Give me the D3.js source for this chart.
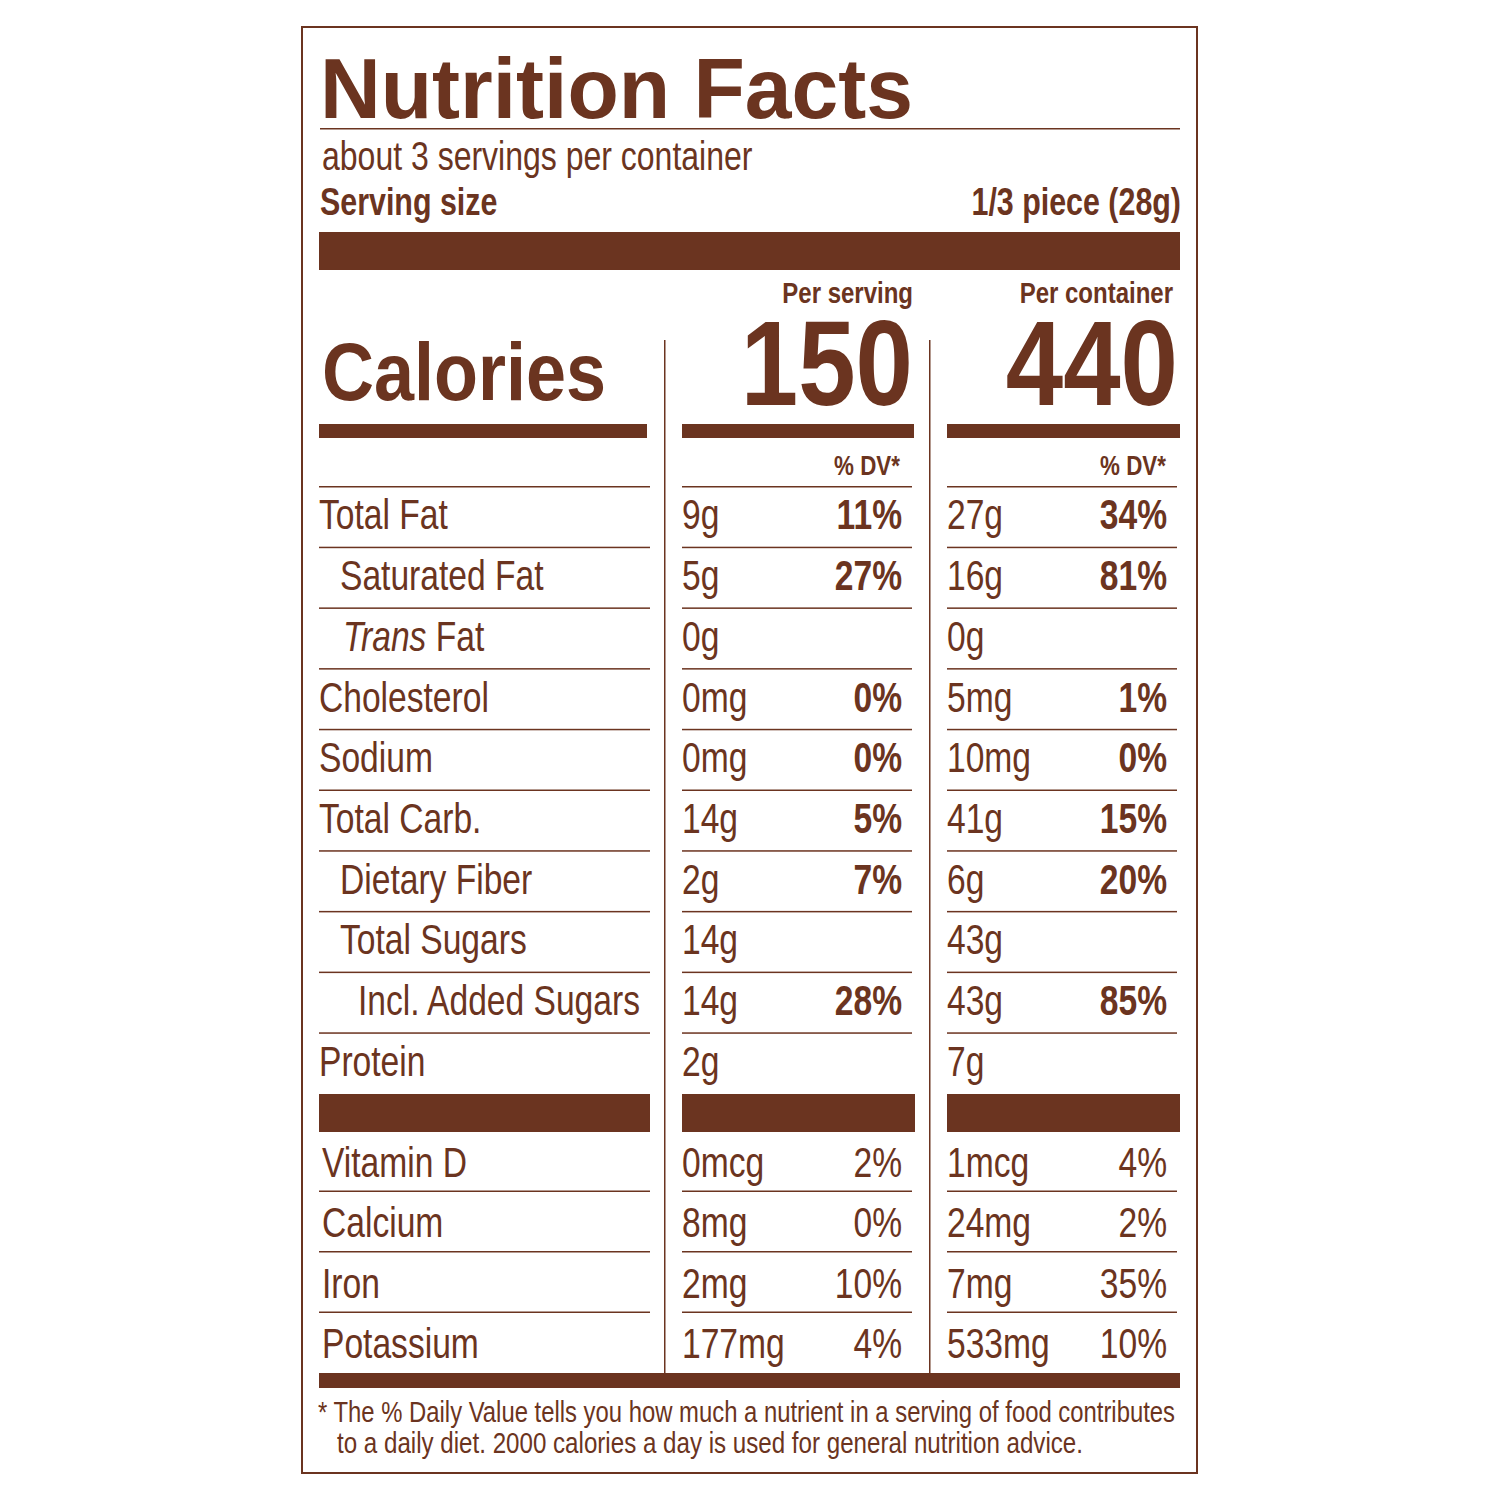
<!DOCTYPE html>
<html><head><meta charset="utf-8">
<script src="https://cdn.jsdelivr.net/npm/d3@7/dist/d3.min.js"></script>
<style>body{margin:0;background:#fff}</style>
</head><body>
<script>
const nutrients = ["Total Fat","Saturated Fat","Trans Fat","Cholesterol","Sodium","Total Carb.","Dietary Fiber","Total Sugars","Incl. Added Sugars","Protein"];
const indent = [0,21,24,0,0,0,21,21,39,0];
const servAmt = ["9g","5g","0g","0mg","0mg","14g","2g","14g","14g","2g"];
const servDV = ["11%","27%","","0%","0%","5%","7%","","28%",""];
const contAmt = ["27g","16g","0g","5mg","10mg","41g","6g","43g","43g","7g"];
const contDV = ["34%","81%","","1%","0%","15%","20%","","85%",""];
const vitamins = ["Vitamin D","Calcium","Iron","Potassium"];
const vitServAmt = ["0mcg","8mg","2mg","177mg"];
const vitServDV = ["2%","0%","10%","4%"];
const vitContAmt = ["1mcg","24mg","7mg","533mg"];
const vitContDV = ["4%","2%","35%","10%"];
const calories = [150, 440];

const C = "#6b3420";
const F = "'Liberation Sans',Arial,sans-serif";
const svg = d3.select("body").append("svg").attr("width",1500).attr("height",1500)
  .style("font-family",F).attr("fill",C);
const rect=(x,y,w,h)=>svg.append("rect").attr("x",x).attr("y",y).attr("width",w).attr("height",h).attr("fill",C);
const txt=(s,x,y,size,w,anchor,sx)=>svg.append("text").attr("transform",`translate(${x},${y}) scale(${sx||0.8},1)`)
  .attr("font-size",size).attr("font-weight",w||"normal").attr("text-anchor",anchor||"start").text(s);
const fit=(s,x,y,size,w,len)=>svg.append("text").attr("x",x).attr("y",y).attr("font-size",size)
  .attr("font-weight",w||"normal").attr("textLength",len).attr("lengthAdjust","spacingAndGlyphs").text(s);

svg.append("rect").attr("x",302).attr("y",27).attr("width",895).attr("height",1446)
  .attr("fill","none").attr("stroke",C).attr("stroke-width",2);
fit("Nutrition Facts",320,118,86,"bold",593);
rect(320,128,860,1.5);
txt("about 3 servings per container",322,170,40);
txt("Serving size",320,215,38,"bold");
txt("1/3 piece (28g)",1181,215,38,"bold","end");
rect(319,232,861,38);
txt("Per serving",913,303,30,"bold","end");
txt("Per container",1173,303,30,"bold","end");
fit("Calories",322,400,82,"bold",284);
txt(calories[0],913,405,120,"bold","end",0.86);
txt(calories[1],1178,405,120,"bold","end",0.86);
rect(664,340,1.5,1033); rect(929,340,1.5,1033);
[[319,328],[682,232],[947,233]].forEach(c=>rect(c[0],424,c[1],14));
txt("% DV*",900,475,28,"bold","end");
txt("% DV*",1166,475,28,"bold","end");
const lineCols=[[319,331],[682,230],[947,230]];
lineCols.forEach(c=>rect(c[0],486,c[1],1.5));

const y = d3.scaleBand().domain(nutrients).range([487,1094]);
const bw = y.bandwidth();
nutrients.forEach((n,i)=>{
  const b=y(n)+bw*0.7;
  const t=svg.append("text").attr("transform",`translate(${319+indent[i]},${b}) scale(0.8,1)`).attr("font-size",42);
  if(n==="Trans Fat"){t.append("tspan").attr("font-style","italic").text("Trans");t.append("tspan").text(" Fat");}
  else t.text(n);
  txt(servAmt[i],682,b,42); txt(servDV[i],902,b,42,"bold","end");
  txt(contAmt[i],947,b,42); txt(contDV[i],1167,b,42,"bold","end");
  if(i<nutrients.length-1) lineCols.forEach(c=>rect(c[0],y(n)+bw-1,c[1],1.5));
});
[[319,331],[682,233],[947,233]].forEach(c=>rect(c[0],1094,c[1],38));

const yv = d3.scaleBand().domain(vitamins).range([1131,1373]);
const vb = yv.bandwidth();
vitamins.forEach((n,i)=>{
  const b=yv(n)+vb*0.76;
  txt(n,322,b,42);
  txt(vitServAmt[i],682,b,42); txt(vitServDV[i],902,b,42,"normal","end");
  txt(vitContAmt[i],947,b,42); txt(vitContDV[i],1167,b,42,"normal","end");
  if(i<vitamins.length-1) lineCols.forEach(c=>rect(c[0],yv(n)+vb-1,c[1],1.5));
});
rect(319,1373,861,15);
fit("* The % Daily Value tells you how much a nutrient in a serving of food contributes",318,1422,29,"normal",857);
fit("to a daily diet. 2000 calories a day is used for general nutrition advice.",337,1453,29,"normal",746);
</script>
</body></html>
